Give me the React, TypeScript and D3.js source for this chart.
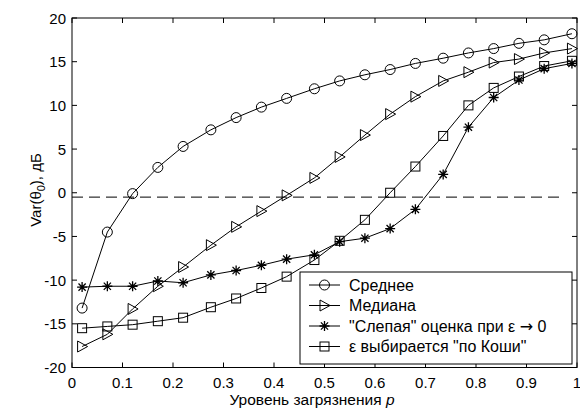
import React, { useEffect, useRef } from 'react';
import * as d3 from 'd3';

// contamination level p
const pValues = [0.02, 0.07, 0.12, 0.17, 0.22, 0.275, 0.325, 0.375, 0.425, 0.48, 0.53, 0.58, 0.63, 0.68, 0.735, 0.785, 0.835, 0.885, 0.935, 0.99];

// Var, dB
const meanVals = [-13.2, -4.5, -0.1, 2.9, 5.3, 7.2, 8.6, 9.8, 10.8, 11.9, 12.8, 13.5, 14.1, 14.8, 15.4, 16.0, 16.5, 17.1, 17.5, 18.2];
const medianVals = [-17.6, -16.2, -13.3, -10.7, -8.5, -6.0, -3.9, -2.1, -0.3, 1.7, 4.1, 6.6, 9.0, 11.0, 12.8, 13.8, 14.9, 15.3, 16.0, 16.5];
const blindVals = [-10.8, -10.7, -10.7, -10.1, -10.3, -9.4, -8.9, -8.3, -7.6, -7.1, -5.6, -5.2, -4.1, -1.9, 2.1, 7.5, 10.9, 12.9, 14.2, 14.8];
const cauchyVals = [-15.5, -15.3, -15.1, -14.7, -14.3, -13.1, -12.1, -10.9, -9.6, -7.7, -5.5, -3.1, 0.0, 3.0, 6.5, 10.0, 12.0, 13.3, 14.5, 15.1];

const seriesNames = ['Среднее', 'Медиана', '"Слепая" оценка при ε → 0', 'ε выбирается "по Коши"'];
const seriesMarkers = ['circle', 'triangle', 'star', 'square'];

// dashed reference level
const refLevel = -0.5;
const refRange = [0, 0.965];

const xTicks = [0, 0.1, 0.2, 0.3, 0.4, 0.5, 0.6, 0.7, 0.8, 0.9, 1];
const yTicks = [-20, -15, -10, -5, 0, 5, 10, 15, 20];

const W = 580;
const H = 409;
const FONT = '"Liberation Sans", Arial, sans-serif';

function drawMarker(g: d3.Selection<SVGGElement, unknown, null, undefined>, type: string, x: number, y: number) {
  const m = g.append('g').attr('transform', `translate(${x},${y})`)
    .attr('fill', 'none').attr('stroke', '#000').attr('stroke-width', 1);
  if (type === 'circle') {
    m.append('circle').attr('r', 5);
  } else if (type === 'triangle') {
    m.append('path').attr('d', 'M5.5,0 L-4.5,-5.5 L-4.5,5.5 Z');
  } else if (type === 'square') {
    m.append('rect').attr('x', -4.5).attr('y', -4.5).attr('width', 9).attr('height', 9);
  } else {
    m.append('path').attr('d', 'M-5,0 L5,0 M0,-5 L0,5 M-3.6,-3.6 L3.6,3.6 M-3.6,3.6 L3.6,-3.6')
      .attr('stroke-width', 1.3);
  }
}

const App: React.FC = () => {
  const svgRef = useRef<SVGSVGElement>(null);

  useEffect(() => {
    if (!svgRef.current) return;
    const svg = d3.select(svgRef.current);
    svg.selectAll('*').remove();

    const left = 72, right = 577, top = 18, bottom = 367.5;
    const x = d3.scaleLinear().domain([0, 1]).range([left, right]);
    const y = d3.scaleLinear().domain([-20, 20]).range([bottom, top]);

    svg.append('rect').attr('width', W).attr('height', H).attr('fill', '#fff');

    // dashed reference line
    svg.append('line')
      .attr('x1', x(refRange[0])).attr('x2', x(refRange[1]))
      .attr('y1', y(refLevel)).attr('y2', y(refLevel))
      .attr('stroke', '#000').attr('stroke-dasharray', '11,6');

    const allSeries = [meanVals, medianVals, blindVals, cauchyVals];
    const line = d3.line<number>().x((_, i) => x(pValues[i])).y(d => y(d));

    allSeries.forEach((vals, si) => {
      const g = svg.append('g');
      g.append('path').attr('d', line(vals)).attr('fill', 'none')
        .attr('stroke', '#000').attr('stroke-width', 1);
      vals.forEach((v, i) => drawMarker(g, seriesMarkers[si], x(pValues[i]), y(v)));
    });

    // frame
    svg.append('rect').attr('x', left).attr('y', top)
      .attr('width', right - left).attr('height', bottom - top)
      .attr('fill', 'none').attr('stroke', '#000').attr('stroke-width', 1);

    const tickLen = 5;
    const ticks = svg.append('g').attr('stroke', '#000').attr('stroke-width', 1);
    xTicks.forEach(t => {
      ticks.append('line').attr('x1', x(t)).attr('x2', x(t)).attr('y1', bottom).attr('y2', bottom - tickLen);
      ticks.append('line').attr('x1', x(t)).attr('x2', x(t)).attr('y1', top).attr('y2', top + tickLen);
    });
    yTicks.forEach(t => {
      ticks.append('line').attr('x1', left).attr('x2', left + tickLen).attr('y1', y(t)).attr('y2', y(t));
      ticks.append('line').attr('x1', right).attr('x2', right - tickLen).attr('y1', y(t)).attr('y2', y(t));
    });

    const labels = svg.append('g').attr('font-family', FONT).attr('font-size', 15).attr('fill', '#000');
    xTicks.forEach(t => {
      labels.append('text').attr('x', x(t)).attr('y', 388).attr('text-anchor', 'middle').text(String(t));
    });
    yTicks.forEach(t => {
      labels.append('text').attr('x', left - 6).attr('y', y(t) + 5.5).attr('text-anchor', 'end').text(String(t));
    });

    // axis titles
    const xl = labels.append('text').attr('x', 312).attr('y', 405).attr('text-anchor', 'middle')
      .attr('font-size', 15.5);
    xl.append('tspan').text('Уровень загрязнения ');
    xl.append('tspan').attr('font-style', 'italic').text('p');

    const yl = labels.append('text').attr('transform', `translate(41,190) rotate(-90)`).attr('text-anchor', 'middle');
    yl.append('tspan').text('Var(θ');
    yl.append('tspan').attr('font-size', 11).attr('dy', 4).text('0');
    yl.append('tspan').attr('dy', -4).text('), дБ');

    // legend
    const lg = svg.append('g');
    lg.append('rect').attr('x', 300).attr('y', 272).attr('width', 272).attr('height', 92)
      .attr('fill', '#fff').attr('stroke', '#000').attr('stroke-width', 1);
    seriesNames.forEach((name, i) => {
      const cy = 285 + i * 20.5;
      lg.append('line').attr('x1', 309).attr('x2', 340).attr('y1', cy).attr('y2', cy)
        .attr('stroke', '#000').attr('stroke-width', 1);
      drawMarker(lg, seriesMarkers[i], 324.5, cy);
      const t = lg.append('text').attr('x', 349).attr('y', cy + 5.5)
        .attr('font-family', FONT).attr('font-size', 16);
      // arrow drawn with a wider glyph, as in the original
      name.split('→').forEach((part, k) => {
        if (k > 0) t.append('tspan').attr('font-family', '"DejaVu Sans", sans-serif').text('→');
        t.append('tspan').text(part);
      });
    });
  }, []);

  return (
    <svg ref={svgRef} width={W} height={H}
      style={{ position: 'absolute', left: 0, top: 0, display: 'block' }} />
  );
};

export default App;
